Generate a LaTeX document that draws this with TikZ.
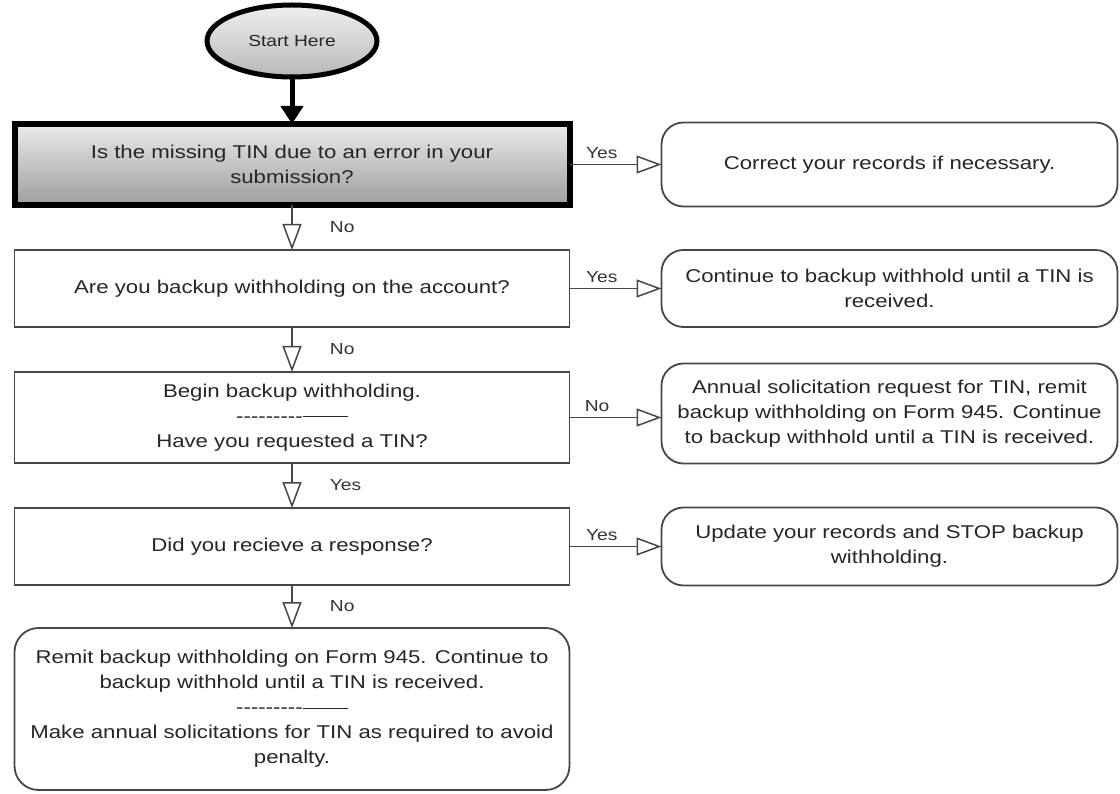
\documentclass[tikz,border=0pt]{standalone}
\usepackage{fontspec}
\setmainfont{Liberation Sans}[FakeStretch=1.2]
\usetikzlibrary{positioning,shapes.geometric,arrows.meta}

\newcommand{\divline}{\mbox{-{}-{}-{}-{}-{}-{}-{}-{}-{}\rule[0.26em]{45pt}{1.2pt}}}

\begin{document}
\begin{tikzpicture}[x=1pt, y=-1pt,
		qbox/.style={rectangle, draw=black!72, line width=1.8pt, text=black!85, minimum width=555pt, align=center, inner sep=2pt, outer sep=0pt, font=\fontsize{18.5}{25}\selectfont},
		abox/.style={rectangle, rounded corners=22pt, draw=black!72, line width=1.8pt, text=black!85, minimum width=456pt, align=center, inner sep=2pt, outer sep=0pt, font=\fontsize{18.5}{25}\selectfont},
		lbl/.style={font=\fontsize{16}{18}\selectfont, text=black!80, inner sep=1pt},
		down/.style={draw=black!72, line width=1.8pt, -{Triangle[open, fill=white, width=19pt, length=26pt, line width=1.5pt]}},
		side/.style={draw=black!72, line width=1.8pt, -{Triangle[open, fill=white, width=18pt, length=25pt, line width=1.5pt]}},
	]
		\useasboundingbox (0,0) rectangle (1120,794);

		% nodes
		\node[qbox, minimum height=81pt, line width=6pt, draw=black, top color=black!8, bottom color=black!38] (err) at (292,164.5) {Is the missing TIN due to an error in your\\submission?};
		\node[qbox, minimum height=77pt] (acct)	[below=45pt of err]	{Are you backup withholding on the account?};
		\node[qbox, minimum height=91pt] (begin)	[below=45pt of acct]	{Begin backup withholding.\\\divline\\Have you requested a TIN?};
		\node[qbox, minimum height=77pt] (resp)	[below=45pt of begin]	{Did you recieve a response?};
		\node[qbox, rounded corners=24pt, minimum height=162pt] (remit)	[below=43pt of resp]	{Remit backup withholding on Form 945. Continue to\\backup withhold until a TIN is received.\\\divline\\Make annual solicitations for TIN as required to avoid\\penalty.};

		\node[ellipse, draw=black, line width=5pt, minimum width=170pt, minimum height=72pt, outer sep=0pt, top color=black!6, bottom color=black!28, text=black!85, font=\fontsize{16}{18}\selectfont] (start) [above=47pt of err] {Start Here};

		\node[abox, minimum height=84pt] (correct)	[right=92pt of err]	{Correct your records if necessary.};
		\node[abox, minimum height=77pt] (cont)	[right=92pt of acct]	{Continue to backup withhold until a TIN is\\received.};
		\node[abox, minimum height=100pt, yshift=4pt] (solicit)	[right=92pt of begin]	{Annual solicitation request for TIN, remit\\backup withholding on Form 945. Continue\\to backup withhold until a TIN is received.};
		\node[abox, minimum height=78pt] (update)	[right=92pt of resp]	{Update your records and STOP backup\\withholding.};

		% lines
		\draw[line width=5pt, -{Triangle[width=22pt, length=18pt]}] (start.south) -- (err.north);
		\draw[down] (err.south) -- node[lbl, midway, right=36pt] {No} (acct.north);
		\draw[down] (acct.south) -- node[lbl, midway, right=36pt] {No} (begin.north);
		\draw[down] (begin.south) -- node[lbl, midway, right=36pt] {Yes} (resp.north);
		\draw[down] (resp.south) -- node[lbl, midway, right=36pt] {No} (remit.north);

		\draw[side] (err.east) -- node[lbl, pos=0.35, above=4pt] {Yes} (err.east -| correct.west);
		\draw[side] (acct.east) -- node[lbl, pos=0.35, above=4pt] {Yes} (acct.east -| cont.west);
		\draw[side] (begin.east) -- node[lbl, pos=0.3, above=4pt] {No} (begin.east -| solicit.west);
		\draw[side] (resp.east) -- node[lbl, pos=0.35, above=4pt] {Yes} (resp.east -| update.west);
	\end{tikzpicture}
\end{document}
